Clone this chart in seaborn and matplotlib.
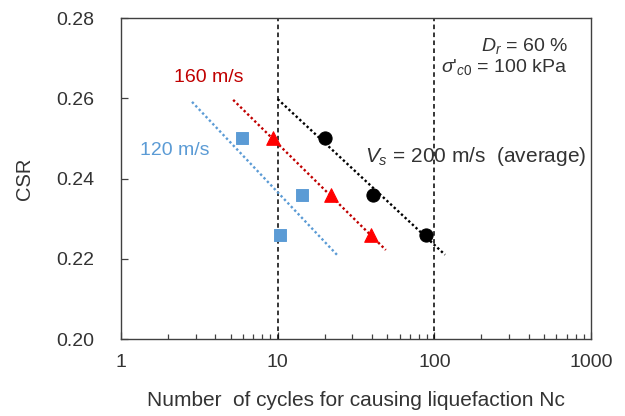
import matplotlib
matplotlib.use("Agg")
import matplotlib.pyplot as plt
import seaborn as sns
from matplotlib.ticker import LogLocator, NullFormatter, FixedLocator

sns.set_theme(style="white")
plt.rcParams['font.family'] = ['Liberation Sans', 'DejaVu Sans']
plt.rcParams['mathtext.fontset'] = 'custom'
plt.rcParams['mathtext.rm'] = 'Liberation Sans'
plt.rcParams['mathtext.it'] = 'Liberation Sans:italic'

# data
nc_200 = [20, 40.4, 89]
csr_200 = [0.250, 0.236, 0.226]
nc_160 = [9.4, 21.9, 39.4]
csr_160 = [0.250, 0.236, 0.226]
nc_120 = [5.9, 14.4, 10.4]
csr_120 = [0.250, 0.236, 0.226]

trend_200_x = [10, 117]
trend_200_y = [0.2598, 0.2210]
trend_160_x = [5.2, 49]
trend_160_y = [0.2596, 0.2222]
trend_120_x = [2.84, 24.3]
trend_120_y = [0.2591, 0.2207]

ref_lines_x = [10, 100]
y_ticks = [0.20, 0.22, 0.24, 0.26, 0.28]
x_ticks = [1, 10, 100, 1000]

BLUE = "#5B9BD5"
RED = "#FF0000"
DARKRED = "#C00000"
TXT = "#333333"

fig, ax = plt.subplots(figsize=(6.25, 4.16), dpi=100)
fig.subplots_adjust(left=0.1936, right=0.9456, top=0.9567, bottom=0.185)

dot = (0, (1, 1.1))
sns.lineplot(x=trend_200_x, y=trend_200_y, ax=ax, color="black", linestyle=dot, lw=1.7)
sns.lineplot(x=trend_160_x, y=trend_160_y, ax=ax, color=DARKRED, linestyle=dot, lw=1.7)
sns.lineplot(x=trend_120_x, y=trend_120_y, ax=ax, color=BLUE, linestyle=dot, lw=1.7)

for xv in ref_lines_x:
    ax.axvline(xv, color="black", linestyle=(0, (3, 2.2)), lw=1.1, zorder=1)

sns.scatterplot(x=nc_200, y=csr_200, ax=ax, color="black", marker="o", s=90, edgecolor="black", zorder=5)
sns.scatterplot(x=nc_160, y=csr_160, ax=ax, color=RED, marker="^", s=95, edgecolor=RED, zorder=5)
sns.scatterplot(x=nc_120, y=csr_120, ax=ax, color=BLUE, marker="s", s=70, edgecolor=BLUE, zorder=5)

ax.set_xscale("log")
ax.set_xlim(1, 1000)
ax.set_ylim(0.20, 0.28)
ax.xaxis.set_major_locator(FixedLocator(x_ticks))
ax.set_xticklabels([str(v) for v in x_ticks])
ax.xaxis.set_minor_locator(LogLocator(base=10, subs=range(2, 10)))
ax.xaxis.set_minor_formatter(NullFormatter())
ax.set_yticks(y_ticks)
ax.set_yticklabels([f"{v:.2f}" for v in y_ticks])

ax.tick_params(axis="y", which="major", direction="in", length=5, width=0.9,
               labelsize=14, colors="#404040", labelcolor=TXT, pad=19, left=True)
ax.tick_params(axis="x", which="major", direction="in", length=5, width=0.9,
               labelsize=14, colors="#404040", labelcolor=TXT, pad=11, bottom=True)
ax.tick_params(axis="x", which="minor", direction="in", length=3.5, width=0.9,
               colors="#404040", bottom=True)
for sp in ax.spines.values():
    sp.set_color("#404040")
    sp.set_linewidth(1.0)

ax.set_xlabel("Number  of cycles for causing liquefaction Nc", fontsize=15, color=TXT, labelpad=14)
ax.set_ylabel("CSR", fontsize=14.5, color=TXT, labelpad=16)

ax.text(3.64, 0.2640, "160 m/s", color=DARKRED, fontsize=14, ha="center", va="baseline")
ax.text(2.19, 0.2459, "120 m/s", color=BLUE, fontsize=14, ha="center", va="baseline")
ax.text(36, 0.2441, r"$V_s$ = 200 m/s  (average)", color=TXT, fontsize=15, ha="left", va="baseline")
ax.text(712, 0.2718, r"$D_r$ = 60 %", color=TXT, fontsize=14, ha="right", va="baseline")
ax.text(712, 0.2665, r"$\sigma$'$_{c0}$ = 100 kPa", color=TXT, fontsize=14, ha="right", va="baseline")

fig.savefig("out.png", dpi=100)
